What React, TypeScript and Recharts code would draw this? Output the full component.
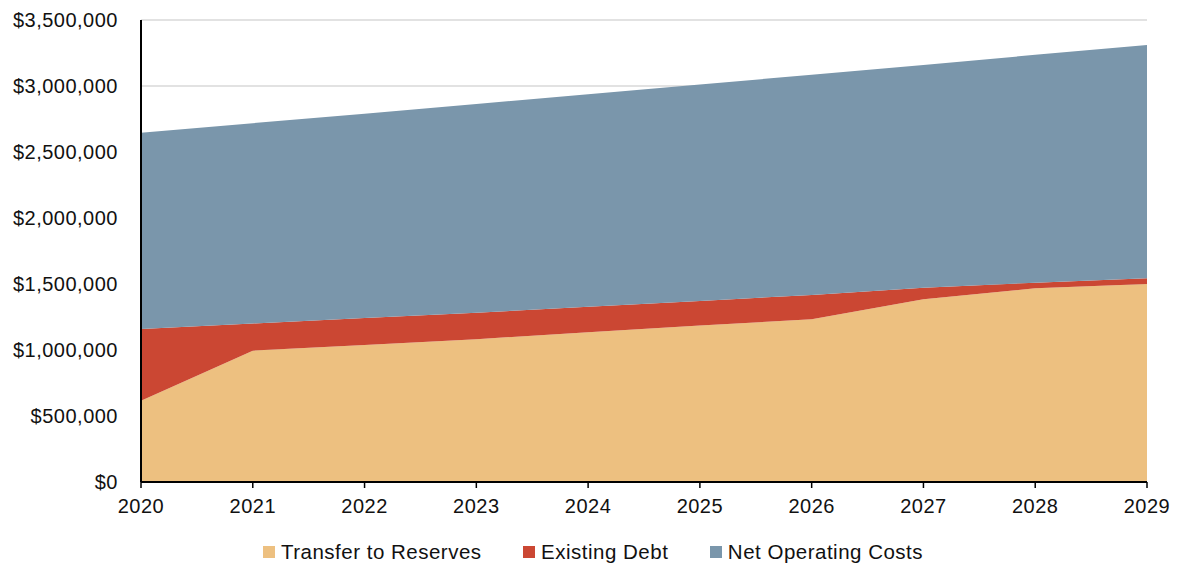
import React from "react";
import { AreaChart, Area, XAxis, YAxis, CartesianGrid, Legend } from "recharts";

const years = ["2020", "2021", "2022", "2023", "2024", "2025", "2026", "2027", "2028", "2029"];
const transferToReserves = [615000, 995000, 1038000, 1082000, 1134000, 1186000, 1233000, 1384000, 1467000, 1500000];
const existingDebt = [544000, 206000, 204000, 200000, 194000, 186000, 184000, 88000, 43000, 43000];
const netOperatingCosts = [1487000, 1517000, 1548000, 1582000, 1609000, 1639000, 1668000, 1688000, 1726000, 1768000];
const yTicks = [0, 500000, 1000000, 1500000, 2000000, 2500000, 3000000, 3500000];

const seriesInfo = [
  { key: "transfer", name: "Transfer to Reserves", color: "#EDC080" },
  { key: "debt", name: "Existing Debt", color: "#CB4733" },
  { key: "netop", name: "Net Operating Costs", color: "#7A96AB" },
];

const data = years.map((year, i) => ({
  year,
  transfer: transferToReserves[i],
  debt: existingDebt[i],
  netop: netOperatingCosts[i],
}));

const FONT = "'Liberation Sans', Arial, sans-serif";
const tickStyle = { fontFamily: FONT, fontSize: 20, fill: "#111", letterSpacing: 0.5 };

const fmt = (v: number) => "$" + v.toLocaleString("en-US");

const LegendContent = () => (
  <div
    style={{
      display: "flex",
      justifyContent: "center",
      alignItems: "center",
      height: 30,
      paddingLeft: 39,
      fontFamily: FONT,
      fontSize: 20.5,
      letterSpacing: 0.5,
      color: "#111",
    }}
  >
    {seriesInfo.map((s, i) => (
      <div key={s.key} style={{ display: "flex", alignItems: "center", marginLeft: i === 0 ? 0 : 41.5 }}>
        <div style={{ width: 12, height: 12, background: s.color, marginRight: 6 }} />
        <span>{s.name}</span>
      </div>
    ))}
  </div>
);

export default function App() {
  return (
    <div style={{ position: "absolute", left: 0, top: 0, background: "#fff" }}>
      <AreaChart width={1179} height={568} data={data} margin={{ top: 20, right: 32, bottom: 1, left: 0 }}>
        <CartesianGrid vertical={false} stroke="#d9d9d9" strokeWidth={1.5} />
        <XAxis
          dataKey="year"
          height={55}
          tick={tickStyle}
          tickSize={6}
          tickMargin={11}
          tickLine={{ stroke: "#000", strokeWidth: 1.5 }}
          axisLine={{ stroke: "#000", strokeWidth: 2 }}
          interval={0}
        />
        <YAxis
          width={141}
          domain={[0, 3500000]}
          ticks={yTicks}
          tickFormatter={fmt}
          tick={tickStyle}
          tickSize={0}
          tickMargin={23}
          tickLine={false}
          axisLine={{ stroke: "#000", strokeWidth: 2 }}
          interval={0}
        />
        <Legend verticalAlign="bottom" height={30} content={<LegendContent />} />
        {seriesInfo.map((s) => (
          <Area
            key={s.key}
            type="linear"
            dataKey={s.key}
            name={s.name}
            stackId="a"
            stroke="none"
            fill={s.color}
            fillOpacity={1}
            isAnimationActive={false}
          />
        ))}
      </AreaChart>
    </div>
  );
}
